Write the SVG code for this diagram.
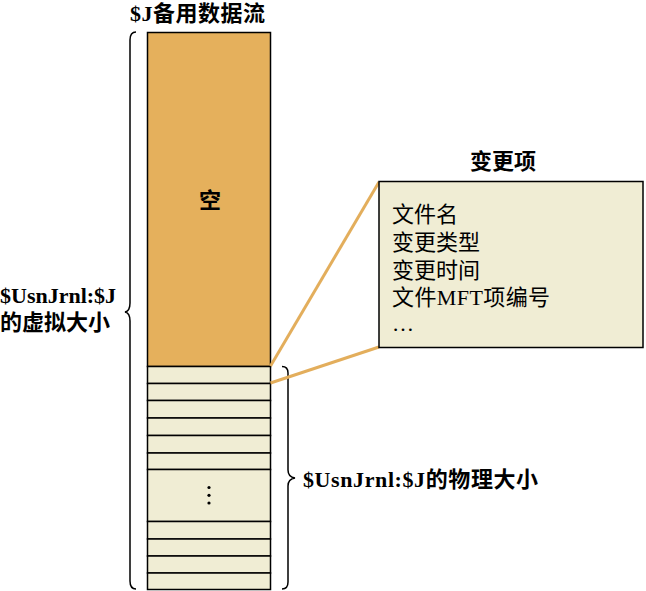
<svg xmlns="http://www.w3.org/2000/svg" width="646" height="591" viewBox="0 0 646 591">
<style>
.t{font-family:"Liberation Serif","Noto Sans CJK SC",serif;font-size:22px;fill:#000}
.b{font-weight:bold}
.cell{fill:#f0edd4;stroke:#000;stroke-width:1.5}
.brace{fill:none;stroke:#000;stroke-width:1.5}
.conn{stroke:#e3ae5c;stroke-width:3;fill:none}
</style>
<rect width="646" height="591" fill="#fff"/>
<g id="title"><text class="t b" x="130" y="21" letter-spacing="0.5">$J备用数据流</text></g>
<g id="stream">
<rect x="147.5" y="32.5" width="123" height="334" fill="#e5b05c" stroke="#000" stroke-width="1.5"/>
<text class="t b" x="210" y="208" text-anchor="middle" font-size="20">空</text>
<rect class="cell" x="147.5" y="366.5" width="123" height="17"/>
<rect class="cell" x="147.5" y="383.5" width="123" height="17"/>
<rect class="cell" x="147.5" y="400.5" width="123" height="17.5"/>
<rect class="cell" x="147.5" y="418" width="123" height="17.5"/>
<rect class="cell" x="147.5" y="435.5" width="123" height="17.5"/>
<rect class="cell" x="147.5" y="453" width="123" height="16.5"/>
<rect class="cell" x="147.5" y="469.5" width="123" height="52"/>
<rect class="cell" x="147.5" y="521.5" width="123" height="17.5"/>
<rect class="cell" x="147.5" y="539" width="123" height="17"/>
<rect class="cell" x="147.5" y="556" width="123" height="17"/>
<rect class="cell" x="147.5" y="573" width="123" height="16.5"/>
<circle cx="209" cy="487.5" r="1.6"/>
<circle cx="209" cy="495.3" r="1.6"/>
<circle cx="209" cy="503" r="1.6"/>
</g>
<g id="virtual-brace">
<path class="brace" d="M136,32 Q130,32 130,40 L130,303 Q130,311 125,312 Q130,313 130,321 L130,581 Q130,589 136,589"/>
<text class="t b" x="0" y="303">$UsnJrnl:$J</text>
<text class="t b" x="0" y="330">的虚拟大小</text>
</g>
<g id="physical-brace">
<path class="brace" d="M282,366.5 Q288,366.5 288,373 L288,470 Q288,477 295,478 Q288,479 288,486 L288,582 Q288,589 282,589"/>
<text class="t b" x="303" y="487" letter-spacing="0.6">$UsnJrnl:$J的物理大小</text>
</g>
<g id="connectors">
<line class="conn" x1="379" y1="182" x2="270.5" y2="366"/>
<line class="conn" x1="379" y1="347" x2="270.5" y2="383"/>
</g>
<g id="change-entry">
<text class="t b" x="503" y="169" text-anchor="middle">变更项</text>
<rect x="379" y="181.5" width="264" height="166" fill="#f0edd4" stroke="#000" stroke-width="1.5"/>
<text class="t" x="392" y="222">文件名</text>
<text class="t" x="392" y="250">变更类型</text>
<text class="t" x="392" y="278">变更时间</text>
<text class="t" x="392" y="305" letter-spacing="0.4">文件MFT项编号</text>
<text class="t" x="392" y="331">…</text>
</g>
</svg>
